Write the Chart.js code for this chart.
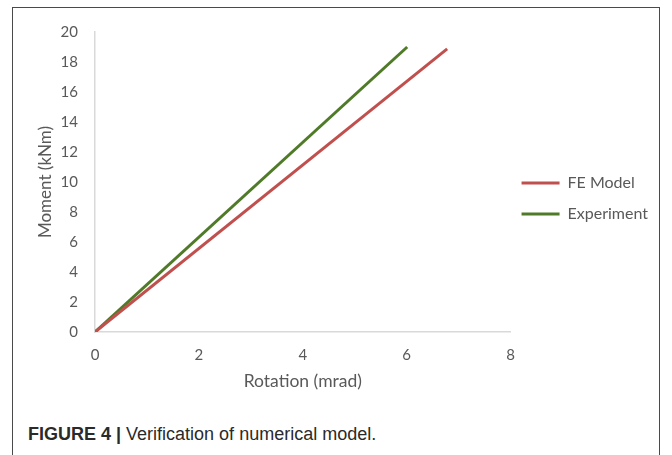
<!DOCTYPE html>
<html>
<head>
<meta charset="utf-8">
<script src="https://cdn.jsdelivr.net/npm/chart.js@4"></script>
<style>
  html, body { margin:0; padding:0; background:#fff; }
  body { width:672px; height:455px; position:relative; overflow:hidden; }
  #frame { position:absolute; left:12px; top:7px; width:646px; height:470px; border:1.5px solid #4a4a4a; }
  #wrap { position:absolute; left:0; top:0; width:672px; height:400px; }
  #caption { position:absolute; left:28px; top:424px; font-family:"Liberation Sans",Arial,sans-serif; font-size:18px; color:#2a2a2a; }
  #caption b { font-weight:bold; }
</style>
</head>
<body>
<div id="frame"></div>
<div id="wrap"><canvas id="c" width="672" height="400"></canvas></div>
<div id="caption"><b>FIGURE 4 |</b> Verification of numerical model.</div>
<script>
// values
const seriesNames = ['FE Model', 'Experiment'];
const feRotation = [0, 6.78];
const feMoment = [0, 18.87];
const expRotation = [0, 6.01];
const expMoment = [0, 19.0];
const seriesColors = ['#c0504d', '#4f7a28'];

function pts(xs, ys){ return xs.map((x, i) => ({x, y: ys[i]})); }

const grey = '#595959';
const fam = 'Lato, "Open Sans", sans-serif';
const tickFont = { family: fam, size: 15 };

// nudge the legend a little closer to the plot
const legendShift = {
  id: 'legendShift',
  afterLayout(chart){
    const lg = chart.legend;
    if(lg){ lg.left -= 4; lg.right -= 4; }
  }
};

new Chart(document.getElementById('c'), {
  type: 'scatter',
  data: {
    datasets: [
      { label: seriesNames[0], data: pts(feRotation, feMoment), showLine: true,
        borderColor: seriesColors[0], backgroundColor: seriesColors[0], borderWidth: 3, pointRadius: 0 },
      { label: seriesNames[1], data: pts(expRotation, expMoment), showLine: true,
        borderColor: seriesColors[1], backgroundColor: seriesColors[1], borderWidth: 3, pointRadius: 0 }
    ]
  },
  plugins: [legendShift],
  options: {
    responsive: false,
    animation: false,
    layout: { padding: { top: 32, left: 0, right: 10, bottom: 0 } },
    plugins: {
      tooltip: { enabled: false },
      legend: {
        position: 'right',
        align: 'start',
        title: { display: true, text: '', font: { size: 10 }, padding: { top: 116, bottom: 0 } },
        labels: { color: grey, font: { family: fam, size: 16 }, usePointStyle: true, pointStyle: 'line',
                  pointStyleWidth: 38, boxHeight: 3, padding: 15 }
      }
    },
    scales: {
      x: {
        type: 'linear', min: 0, max: 8,
        ticks: { stepSize: 2, color: grey, font: tickFont, padding: 14 },
        grid: { display: false, drawTicks: false },
        border: { color: '#d9d9d9', width: 1.5 },
        title: { display: true, text: 'Rotation (mrad)', color: grey, font: { family: fam, size: 17.5 }, padding: { top: 0, bottom: 8 } },
        afterFit: s => { s.height = 68; }
      },
      y: {
        type: 'linear', min: 0, max: 20,
        ticks: { stepSize: 2, color: grey, font: tickFont, padding: 17 },
        grid: { display: false, drawTicks: false },
        border: { color: '#d9d9d9', width: 1.5 },
        title: { display: true, text: 'Moment (kNm)', color: grey, font: { family: fam, size: 17 }, padding: { top: 35, bottom: 0 } },
        afterFit: s => { s.width = 95; }
      }
    }
  }
});
</script>
</body>
</html>
